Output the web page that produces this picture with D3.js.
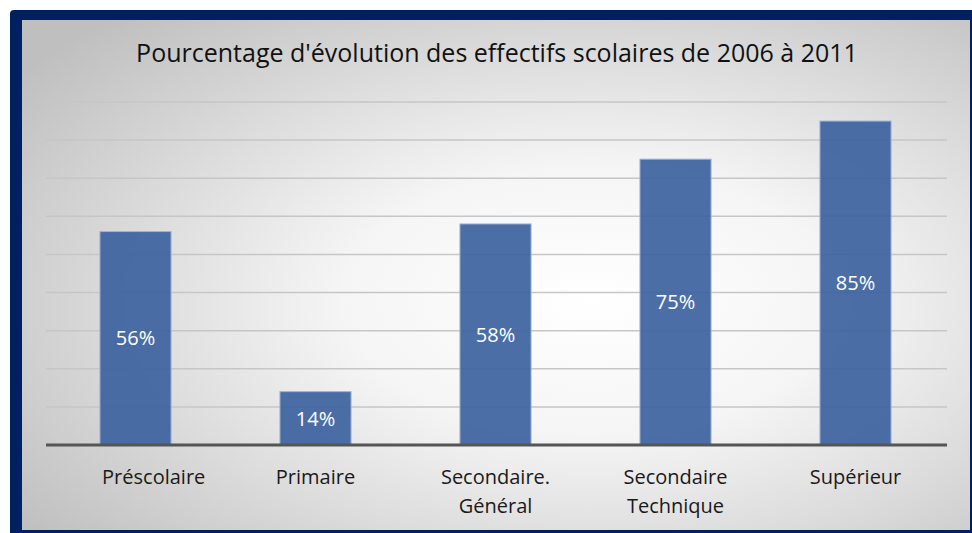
<!DOCTYPE html>
<html>
<head>
<meta charset="utf-8">
<script src="https://cdn.jsdelivr.net/npm/d3@7"></script>
<style>
  html, body { margin: 0; padding: 0; background: #fff; }
  svg { display: block; }
</style>
</head>
<body>
<svg id="chart"></svg>
<script>
// data (first label carries leading spaces in the source)
const categories = [
  ['\u00a0\u00a0\u00a0\u00a0\u00a0\u00a0\u00a0Préscolaire'],
  ['Primaire'],
  ['Secondaire.', 'Général'],
  ['Secondaire', 'Technique'],
  ['Supérieur'],
];
const values = [56, 14, 58, 75, 85];
const gridTicks = [10, 20, 30, 40, 50, 60, 70, 80, 90];
const chartTitle = "Pourcentage d'évolution des effectifs scolaires de 2006 à 2011";

const width = 972;
const height = 533;
const font = '"Open Sans", "Noto Sans", sans-serif';

const svg = d3.select('#chart').attr('width', width).attr('height', height);

// background gradient (light in the middle, grey at the corners)
const defs = svg.append('defs');
const grad = defs
  .append('radialGradient')
  .attr('id', 'bg')
  .attr('cx', '0.6')
  .attr('cy', '0.55')
  .attr('r', '0.75');
grad.append('stop').attr('offset', '0%').attr('stop-color', '#ffffff');
grad.append('stop').attr('offset', '35%').attr('stop-color', '#f5f5f5');
grad.append('stop').attr('offset', '100%').attr('stop-color', '#bfbfbf');

// navy frame, cut by the window on the right and bottom
svg
  .append('rect')
  .attr('x', 10)
  .attr('y', 10)
  .attr('width', 980)
  .attr('height', 540)
  .attr('rx', 4)
  .style('fill', '#002060');
svg
  .append('rect')
  .attr('x', 22)
  .attr('y', 20)
  .attr('width', 948)
  .attr('height', 510)
  .style('fill', 'url(#bg)');

// scales
const x = d3
  .scaleBand()
  .domain(d3.range(values.length))
  .range([45.5, 945.5])
  .paddingInner(0.605)
  .paddingOuter(0.3025);
const y = d3.scaleLinear().domain([0, 90]).range([445, 102]);

// gridlines
svg
  .append('g')
  .selectAll('line')
  .data(gridTicks)
  .join('line')
  .attr('x1', 46)
  .attr('x2', 947)
  .attr('y1', (d) => y(d))
  .attr('y2', (d) => y(d))
  .style('stroke', '#c6c6c6')
  .style('stroke-width', 1.5);

// bars
svg
  .append('g')
  .selectAll('rect')
  .data(values)
  .join('rect')
  .attr('x', (d, i) => x(i))
  .attr('y', (d) => y(d))
  .attr('width', x.bandwidth())
  .attr('height', (d) => y(0) - y(d))
  .style('fill', '#3d62a0')
  .style('fill-opacity', 0.92)
  .style('stroke', '#9fb3d6')
  .style('stroke-width', 1);

// value labels in the middle of each bar
svg
  .append('g')
  .selectAll('text')
  .data(values)
  .join('text')
  .attr('x', (d, i) => x(i) + x.bandwidth() / 2)
  .attr('y', (d) => (y(d) + y(0)) / 2)
  .attr('dy', '0.36em')
  .attr('text-anchor', 'middle')
  .style('font-family', font)
  .style('font-size', '20px')
  .style('fill', '#ffffff')
  .text((d) => `${d}%`);

// x axis line
svg
  .append('line')
  .attr('x1', 46)
  .attr('x2', 947)
  .attr('y1', y(0))
  .attr('y2', y(0))
  .style('stroke', '#555555')
  .style('stroke-width', 3);

// category labels (one or two lines)
const cats = svg
  .append('g')
  .selectAll('text')
  .data(categories)
  .join('text')
  .attr('text-anchor', 'middle')
  .style('font-family', font)
  .style('font-size', '20px')
  .style('fill', '#1a1a1a');
cats
  .selectAll('tspan')
  .data((d, i) => d.map((t) => ({ t, i })))
  .join('tspan')
  .attr('x', (d) => x(d.i) + x.bandwidth() / 2)
  .attr('y', (d, j) => 484 + j * 29)
  .text((d) => d.t);

// title
svg
  .append('text')
  .attr('x', 497)
  .attr('y', 62)
  .attr('text-anchor', 'middle')
  .style('font-family', font)
  .style('font-size', '25px')
  .style('fill', '#111111')
  .text(chartTitle);
</script>
</body>
</html>
